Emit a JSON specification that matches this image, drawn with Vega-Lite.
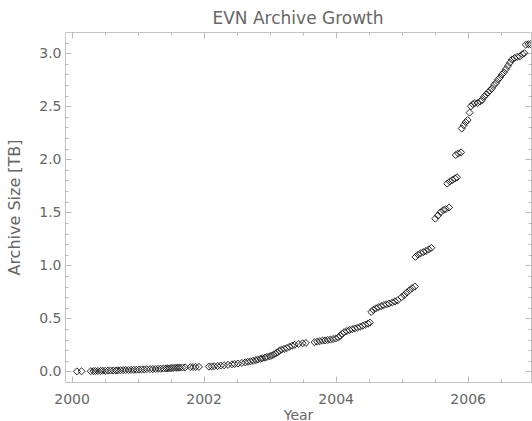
{
  "$schema": "https://vega.github.io/schema/vega-lite/v6.json",
  "width": 466,
  "height": 350,
  "autosize": "none",
  "padding": {"left": 65, "top": 32, "right": 1, "bottom": 39},
  "background": "white",
  "title": {"text": "EVN Archive Growth", "offset": 4, "anchor": "middle", "font": "DejaVu Sans", "fontSize": 17, "fontWeight": "normal", "color": "#666666"},
  "config": {
    "view": {"stroke": "#c4c4c4", "strokeWidth": 1},
    "axis": {
      "domain": false,
      "grid": false,
      "tickColor": "#b8b8b8",
      "labelColor": "#666666",
      "labelFont": "DejaVu Sans",
      "labelFontSize": 14,
      "titleColor": "#666666",
      "titleFont": "DejaVu Sans",
      "titleFontSize": 14,
      "titleFontWeight": "normal"
    }
  },
  "data": {
    "values": [
      {"year": 2000.08, "tb": 0.000}, {"year": 2000.15, "tb": 0.001}, {"year": 2000.29, "tb": 0.002},
      {"year": 2000.33, "tb": 0.003}, {"year": 2000.36, "tb": 0.004}, {"year": 2000.40, "tb": 0.004},
      {"year": 2000.44, "tb": 0.005}, {"year": 2000.47, "tb": 0.006}, {"year": 2000.51, "tb": 0.006},
      {"year": 2000.55, "tb": 0.007}, {"year": 2000.59, "tb": 0.008}, {"year": 2000.63, "tb": 0.008},
      {"year": 2000.67, "tb": 0.009}, {"year": 2000.70, "tb": 0.010}, {"year": 2000.74, "tb": 0.011},
      {"year": 2000.78, "tb": 0.012}, {"year": 2000.82, "tb": 0.012}, {"year": 2000.86, "tb": 0.013},
      {"year": 2000.90, "tb": 0.014}, {"year": 2000.94, "tb": 0.015}, {"year": 2000.98, "tb": 0.016},
      {"year": 2001.02, "tb": 0.017}, {"year": 2001.06, "tb": 0.018}, {"year": 2001.10, "tb": 0.019},
      {"year": 2001.14, "tb": 0.020}, {"year": 2001.19, "tb": 0.021}, {"year": 2001.23, "tb": 0.022},
      {"year": 2001.27, "tb": 0.023}, {"year": 2001.31, "tb": 0.024}, {"year": 2001.35, "tb": 0.025},
      {"year": 2001.39, "tb": 0.027}, {"year": 2001.43, "tb": 0.028}, {"year": 2001.46, "tb": 0.029},
      {"year": 2001.49, "tb": 0.030}, {"year": 2001.52, "tb": 0.032}, {"year": 2001.55, "tb": 0.033},
      {"year": 2001.58, "tb": 0.034}, {"year": 2001.61, "tb": 0.035}, {"year": 2001.64, "tb": 0.036},
      {"year": 2001.68, "tb": 0.037}, {"year": 2001.72, "tb": 0.038}, {"year": 2001.80, "tb": 0.040},
      {"year": 2001.84, "tb": 0.041}, {"year": 2001.88, "tb": 0.042}, {"year": 2001.93, "tb": 0.043},
      {"year": 2002.08, "tb": 0.045}, {"year": 2002.12, "tb": 0.047}, {"year": 2002.16, "tb": 0.049},
      {"year": 2002.21, "tb": 0.051}, {"year": 2002.26, "tb": 0.055}, {"year": 2002.31, "tb": 0.058},
      {"year": 2002.37, "tb": 0.062}, {"year": 2002.43, "tb": 0.067}, {"year": 2002.47, "tb": 0.070},
      {"year": 2002.52, "tb": 0.074}, {"year": 2002.58, "tb": 0.080}, {"year": 2002.63, "tb": 0.085},
      {"year": 2002.67, "tb": 0.090}, {"year": 2002.71, "tb": 0.095}, {"year": 2002.75, "tb": 0.100},
      {"year": 2002.79, "tb": 0.106}, {"year": 2002.82, "tb": 0.112}, {"year": 2002.86, "tb": 0.118},
      {"year": 2002.89, "tb": 0.124}, {"year": 2002.93, "tb": 0.130}, {"year": 2002.96, "tb": 0.136},
      {"year": 2003.00, "tb": 0.142}, {"year": 2003.03, "tb": 0.150}, {"year": 2003.06, "tb": 0.158},
      {"year": 2003.09, "tb": 0.168}, {"year": 2003.12, "tb": 0.180}, {"year": 2003.15, "tb": 0.195},
      {"year": 2003.18, "tb": 0.205}, {"year": 2003.22, "tb": 0.212}, {"year": 2003.26, "tb": 0.220},
      {"year": 2003.30, "tb": 0.232}, {"year": 2003.34, "tb": 0.242}, {"year": 2003.38, "tb": 0.250},
      {"year": 2003.44, "tb": 0.258}, {"year": 2003.50, "tb": 0.265}, {"year": 2003.55, "tb": 0.268},
      {"year": 2003.68, "tb": 0.275}, {"year": 2003.72, "tb": 0.280}, {"year": 2003.76, "tb": 0.285},
      {"year": 2003.80, "tb": 0.290}, {"year": 2003.84, "tb": 0.292}, {"year": 2003.88, "tb": 0.296},
      {"year": 2003.92, "tb": 0.300}, {"year": 2003.96, "tb": 0.305}, {"year": 2004.00, "tb": 0.310},
      {"year": 2004.04, "tb": 0.320}, {"year": 2004.07, "tb": 0.335}, {"year": 2004.10, "tb": 0.355},
      {"year": 2004.13, "tb": 0.370}, {"year": 2004.17, "tb": 0.380}, {"year": 2004.21, "tb": 0.390},
      {"year": 2004.25, "tb": 0.398}, {"year": 2004.29, "tb": 0.405}, {"year": 2004.33, "tb": 0.412},
      {"year": 2004.37, "tb": 0.420}, {"year": 2004.41, "tb": 0.430}, {"year": 2004.45, "tb": 0.440},
      {"year": 2004.49, "tb": 0.450}, {"year": 2004.52, "tb": 0.460},
      {"year": 2004.54, "tb": 0.560}, {"year": 2004.57, "tb": 0.580}, {"year": 2004.61, "tb": 0.595},
      {"year": 2004.65, "tb": 0.605}, {"year": 2004.69, "tb": 0.615}, {"year": 2004.73, "tb": 0.625},
      {"year": 2004.77, "tb": 0.632}, {"year": 2004.81, "tb": 0.640}, {"year": 2004.86, "tb": 0.650},
      {"year": 2004.90, "tb": 0.660}, {"year": 2004.94, "tb": 0.670},
      {"year": 2005.00, "tb": 0.700}, {"year": 2005.04, "tb": 0.720}, {"year": 2005.08, "tb": 0.745},
      {"year": 2005.12, "tb": 0.765}, {"year": 2005.16, "tb": 0.785}, {"year": 2005.20, "tb": 0.800},
      {"year": 2005.21, "tb": 1.080}, {"year": 2005.25, "tb": 1.100}, {"year": 2005.29, "tb": 1.115},
      {"year": 2005.33, "tb": 1.125}, {"year": 2005.37, "tb": 1.135}, {"year": 2005.41, "tb": 1.150},
      {"year": 2005.45, "tb": 1.165},
      {"year": 2005.51, "tb": 1.440}, {"year": 2005.55, "tb": 1.470}, {"year": 2005.59, "tb": 1.500},
      {"year": 2005.63, "tb": 1.520}, {"year": 2005.67, "tb": 1.530}, {"year": 2005.72, "tb": 1.545},
      {"year": 2005.69, "tb": 1.770}, {"year": 2005.73, "tb": 1.790}, {"year": 2005.77, "tb": 1.805},
      {"year": 2005.81, "tb": 1.820}, {"year": 2005.84, "tb": 1.830},
      {"year": 2005.82, "tb": 2.040}, {"year": 2005.86, "tb": 2.055}, {"year": 2005.90, "tb": 2.065},
      {"year": 2005.91, "tb": 2.290}, {"year": 2005.94, "tb": 2.320}, {"year": 2005.97, "tb": 2.350},
      {"year": 2006.00, "tb": 2.370}, {"year": 2006.03, "tb": 2.440}, {"year": 2006.05, "tb": 2.500},
      {"year": 2006.08, "tb": 2.520}, {"year": 2006.11, "tb": 2.530}, {"year": 2006.15, "tb": 2.530},
      {"year": 2006.19, "tb": 2.545}, {"year": 2006.22, "tb": 2.560}, {"year": 2006.25, "tb": 2.590},
      {"year": 2006.28, "tb": 2.610}, {"year": 2006.31, "tb": 2.630}, {"year": 2006.34, "tb": 2.650},
      {"year": 2006.37, "tb": 2.670}, {"year": 2006.40, "tb": 2.700}, {"year": 2006.43, "tb": 2.720},
      {"year": 2006.46, "tb": 2.750}, {"year": 2006.49, "tb": 2.770}, {"year": 2006.52, "tb": 2.800},
      {"year": 2006.55, "tb": 2.820}, {"year": 2006.58, "tb": 2.850}, {"year": 2006.61, "tb": 2.880},
      {"year": 2006.64, "tb": 2.910}, {"year": 2006.67, "tb": 2.940}, {"year": 2006.71, "tb": 2.955},
      {"year": 2006.75, "tb": 2.965}, {"year": 2006.79, "tb": 2.970}, {"year": 2006.83, "tb": 2.990},
      {"year": 2006.86, "tb": 3.000}, {"year": 2006.88, "tb": 3.080}, {"year": 2006.92, "tb": 3.085},
      {"year": 2006.95, "tb": 3.085}
    ]
  },
  "layer": [
    {
      "mark": {"type": "point", "shape": "diamond", "filled": false, "size": 50, "stroke": "#111111", "strokeWidth": 1, "opacity": 0.9, "clip": true},
      "encoding": {
        "x": {
          "field": "year", "type": "quantitative",
          "scale": {"domain": [1999.9, 2006.96], "nice": false, "zero": false},
          "axis": {
            "orient": "bottom", "title": "Year",
            "values": [2000, 2000.5, 2001, 2001.5, 2002, 2002.5, 2003, 2003.5, 2004, 2004.5, 2005, 2005.5, 2006, 2006.5],
            "labelExpr": "datum.value % 2 == 0 ? format(datum.value, 'd') : ''",
            "tickSize": {"condition": {"test": "datum.value % 2 == 0", "value": -6}, "value": -3},
            "labelPadding": 16, "titlePadding": 2
          }
        },
        "y": {
          "field": "tb", "type": "quantitative",
          "scale": {"domain": [-0.1, 3.2], "nice": false, "zero": false},
          "axis": {
            "orient": "left", "title": "Archive Size [TB]", "titleFontSize": 16,
            "values": [0, 0.1, 0.2, 0.3, 0.4, 0.5, 0.6, 0.7, 0.8, 0.9, 1, 1.1, 1.2, 1.3, 1.4, 1.5, 1.6, 1.7, 1.8, 1.9, 2, 2.1, 2.2, 2.3, 2.4, 2.5, 2.6, 2.7, 2.8, 2.9, 3, 3.1],
            "labelExpr": "abs(datum.value*2 - round(datum.value*2)) < 0.001 ? format(datum.value, '.1f') : ''",
            "tickSize": {"condition": {"test": "abs(datum.value*2 - round(datum.value*2)) < 0.001", "value": -6}, "value": -3},
            "labelPadding": 10, "titlePadding": 16
          }
        }
      }
    },
    {
      "mark": {"type": "point", "opacity": 0},
      "encoding": {
        "x": {
          "field": "year", "type": "quantitative",
          "scale": {"domain": [1999.9, 2006.96], "nice": false, "zero": false},
          "axis": {
            "orient": "top", "title": null, "labels": false,
            "values": [2000, 2000.5, 2001, 2001.5, 2002, 2002.5, 2003, 2003.5, 2004, 2004.5, 2005, 2005.5, 2006, 2006.5],
            "tickSize": {"condition": {"test": "datum.value % 2 == 0", "value": -6}, "value": -3}
          }
        },
        "y": {
          "field": "tb", "type": "quantitative",
          "scale": {"domain": [-0.1, 3.2], "nice": false, "zero": false},
          "axis": {
            "orient": "right", "title": null, "labels": false,
            "values": [0, 0.1, 0.2, 0.3, 0.4, 0.5, 0.6, 0.7, 0.8, 0.9, 1, 1.1, 1.2, 1.3, 1.4, 1.5, 1.6, 1.7, 1.8, 1.9, 2, 2.1, 2.2, 2.3, 2.4, 2.5, 2.6, 2.7, 2.8, 2.9, 3, 3.1],
            "tickSize": {"condition": {"test": "abs(datum.value*2 - round(datum.value*2)) < 0.001", "value": -6}, "value": -3}
          }
        }
      }
    }
  ],
  "resolve": {"axis": {"x": "independent", "y": "independent"}}
}
